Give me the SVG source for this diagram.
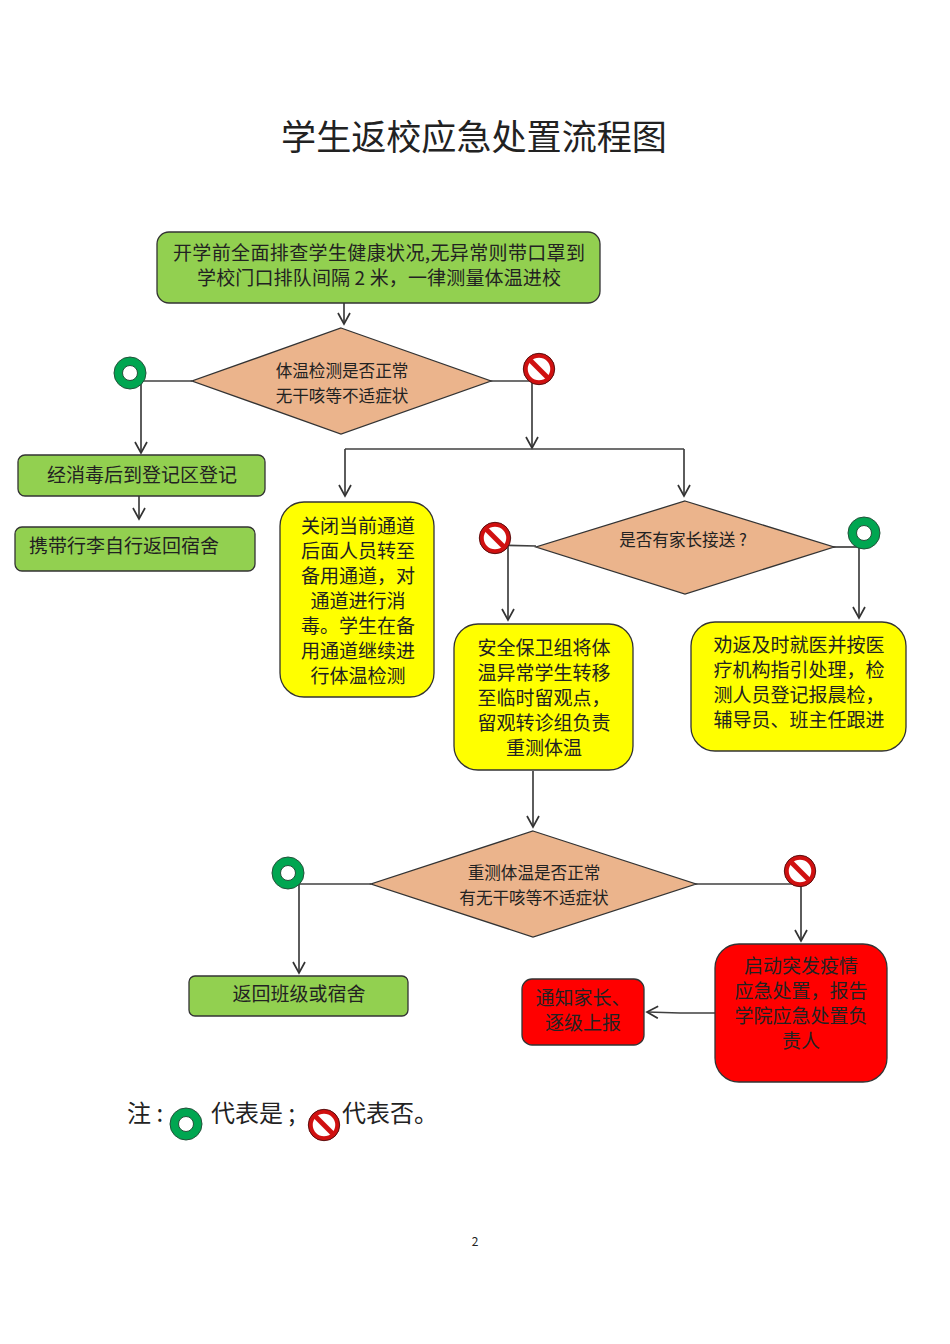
<svg xmlns="http://www.w3.org/2000/svg" width="950" height="1344" viewBox="0 0 950 1344">
<style>
text{font-family:"Noto Sans CJK SC","Liberation Sans",sans-serif;fill:#222;text-anchor:middle;font-size:19px}
.s{font-size:16.6px}
.l{font-size:24px;text-anchor:start}
.g,.y,.r,.d{stroke:#333;stroke-width:1.3}
.g{fill:#92d050}.y{fill:#ffff00}.r{fill:#ff0000}.d{fill:#ebb48c}
.c{fill:none;stroke:#404040;stroke-width:1.7}
.a{marker-end:url(#arr)}
</style>
<defs>
<marker id="arr" markerUnits="userSpaceOnUse" markerWidth="16" markerHeight="16" refX="12" refY="7" orient="auto"><path d="M1 1L12 7L1 13" fill="none" stroke="#333" stroke-width="1.7"/></marker>
<g id="yes"><path d="M-16 0A16 16 0 1 1 16 0A16 16 0 1 1 -16 0ZM-7.5 0A7.5 7.5 0 1 0 7.5 0A7.5 7.5 0 1 0 -7.5 0Z" fill="#00a651" stroke="#24513a" stroke-width="1"/></g>
<g id="no"><circle r="13.5" fill="#fff" stroke="#d01010" stroke-width="4.5"/><circle r="15.7" fill="none" stroke="#5a1010" stroke-width="1"/><path d="M-9.5 -9.5L9.5 9.5" stroke="#d01010" stroke-width="5"/></g>
</defs>
<rect width="950" height="1344" fill="#fff"/>
<text x="474" y="150" style="font-size:35.1px">学生返校应急处置流程图</text>

<g id="connectors">
<path class="c a" d="M344 303V324"/>
<path class="c" d="M192 381H130"/>
<path class="c a" d="M141 381V453"/>
<path class="c" d="M490 381H539"/>
<path class="c a" d="M532 381V448"/>
<path class="c a" d="M345 449V496"/>
<path class="c" d="M345 449H684"/>
<path class="c a" d="M684 449V496"/>
<path class="c a" d="M139 496V519"/>
<path class="c" d="M536 546L495 545"/>
<path class="c a" d="M508 546V620"/>
<path class="c" d="M833 547H864"/>
<path class="c a" d="M859 547V618"/>
<path class="c a" d="M533 771V827"/>
<path class="c" d="M371 884H288"/>
<path class="c a" d="M299 884V973"/>
<path class="c" d="M695 884H800"/>
<path class="c a" d="M801 884V941"/>
<path class="c a" d="M715 1013H680L647 1012"/>
</g>

<g id="node-start"><rect class="g" x="157" y="232" width="443" height="71" rx="12"/><text x="379" y="260" textLength="412" lengthAdjust="spacing">开学前全面排查学生健康状况,无异常则带口罩到</text><text x="379" y="285" textLength="364" lengthAdjust="spacing">学校门口排队间隔 2 米，一律测量体温进校</text></g>
<g id="node-check1"><polygon class="d" points="341,328 491,381 341,434 192,381"/><text class="s" x="342" y="377">体温检测是否正常</text><text class="s" x="342" y="402">无干咳等不适症状</text></g>
<g id="node-register"><rect class="g" x="18" y="455" width="247" height="41" rx="7"/><text x="142" y="482">经消毒后到登记区登记</text></g>
<g id="node-dorm"><rect class="g" x="15" y="527" width="240" height="44" rx="7"/><text x="124" y="553">携带行李自行返回宿舍</text></g>
<g id="node-close"><rect class="y" x="280" y="502" width="154" height="195" rx="24"/>
<text x="358" y="533">关闭当前通道</text><text x="358" y="558">后面人员转至</text><text x="358" y="583">备用通道，对</text><text x="358" y="608">通道进行消</text><text x="358" y="633">毒。学生在备</text><text x="358" y="658">用通道继续进</text><text x="358" y="683">行体温检测</text></g>
<g id="node-parent"><polygon class="d" points="685,501 834,547 685,594 536,547"/><text class="s" x="683" y="546">是否有家长接送 ?</text></g>
<g id="node-security"><rect class="y" x="454" y="624" width="179" height="146" rx="24"/>
<text x="544" y="655">安全保卫组将体</text><text x="544" y="680">温异常学生转移</text><text x="544" y="705">至临时留观点，</text><text x="544" y="730">留观转诊组负责</text><text x="544" y="755">重测体温</text></g>
<g id="node-advise"><rect class="y" x="691" y="622" width="215" height="129" rx="24"/>
<text x="799" y="652">劝返及时就医并按医</text><text x="799" y="677">疗机构指引处理，检</text><text x="799" y="702">测人员登记报晨检，</text><text x="799" y="727">辅导员、班主任跟进</text></g>
<g id="node-check2"><polygon class="d" points="533,831 696,884 533,937 371,884"/><text class="s" x="534" y="879">重测体温是否正常</text><text class="s" x="534" y="904">有无干咳等不适症状</text></g>
<g id="node-return"><rect class="g" x="189" y="976" width="219" height="40" rx="6"/><text x="299" y="1001">返回班级或宿舍</text></g>
<g id="node-emergency"><rect class="r" x="715" y="944" width="172" height="138" rx="24"/>
<text x="801" y="973">启动突发疫情</text><text x="801" y="998">应急处置，报告</text><text x="801" y="1023">学院应急处置负</text><text x="801" y="1048">责人</text></g>
<g id="node-notify"><rect class="r" x="522" y="979" width="122" height="66" rx="10"/><text x="583" y="1005">通知家长、</text><text x="583" y="1030">逐级上报</text></g>

<g id="icon-yes1"><use href="#yes" x="130" y="373"/></g>
<g id="icon-no1"><use href="#no" x="539" y="369"/></g>
<g id="icon-no2"><use href="#no" x="495" y="538"/></g>
<g id="icon-yes2"><use href="#yes" x="864" y="533"/></g>
<g id="icon-yes3"><use href="#yes" x="288" y="873"/></g>
<g id="icon-no3"><use href="#no" x="800" y="871"/></g>

<g id="legend">
<text class="l" x="127" y="1122" xml:space="preserve">注 :</text>
<use href="#yes" x="186" y="1124"/>
<text class="l" x="211" y="1122" xml:space="preserve">代表是 ;</text>
<use href="#no" x="324" y="1125"/>
<text class="l" x="342" y="1122">代表否。</text>
</g>
<text x="475" y="1246" style="font-size:12px">2</text>
</svg>
